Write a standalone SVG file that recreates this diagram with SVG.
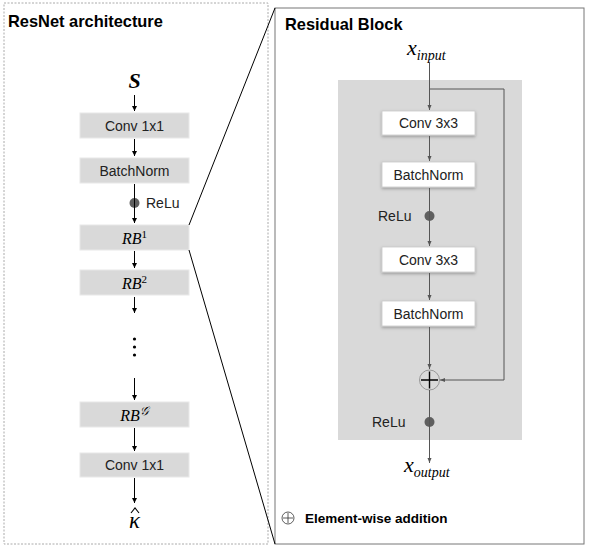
<svg xmlns="http://www.w3.org/2000/svg" width="592" height="552" viewBox="0 0 592 552">
<defs>
<style>
.title{font-family:"Liberation Sans",Arial,sans-serif;font-weight:bold;font-size:16.4px;fill:#000}
.legend{font-family:"Liberation Sans",Arial,sans-serif;font-weight:bold;font-size:13.5px;fill:#000}
.lbl{font-family:"Liberation Sans",Arial,sans-serif;font-size:14px;fill:#222}
.math{font-family:"Liberation Serif","Times New Roman",serif;font-style:italic;fill:#000}
.sup{font-style:normal}
.gbox{fill:#d9d9d9;stroke:#e8e8e8;stroke-width:1}
.wbox{fill:#fff;stroke:#c8c8c8;stroke-width:0.8}
.bl{stroke:#000;stroke-width:1;fill:none}
.gl{stroke:#555;stroke-width:1;fill:none}
.dot{fill:#5f5f5f}
</style>
<marker id="ab" markerWidth="6" markerHeight="6" refX="5" refY="3" orient="auto" markerUnits="userSpaceOnUse">
<path d="M0,0.5 L5,3 L0,5.5 Z" fill="#000"/>
</marker>
<marker id="ag" markerWidth="6" markerHeight="6" refX="5" refY="3" orient="auto" markerUnits="userSpaceOnUse">
<path d="M0,1 L5,3 L0,5 Z" fill="#555"/>
</marker>
<filter id="sh" x="-20%" y="-20%" width="140%" height="160%">
<feDropShadow dx="0" dy="1.5" stdDeviation="1.5" flood-color="#000" flood-opacity="0.3"/>
</filter>
</defs>
<rect width="592" height="552" fill="#fff"/>

<!-- panels -->
<g id="left-panel">
<rect x="4" y="3" width="264" height="541" fill="none" stroke="#aaa" stroke-width="1" stroke-dasharray="2,1.5"/>
<text class="title" x="8" y="27">ResNet architecture</text>
</g>
<g id="right-panel">
<rect x="275" y="8" width="309" height="536" fill="none" stroke="#777" stroke-width="1"/>
<text class="title" x="285" y="30">Residual Block</text>
<rect id="rb-bg" x="338" y="80" width="184" height="360" fill="#d9d9d9"/>
</g>

<!-- left nodes -->
<g id="s"><text class="math" x="134.5" y="88" text-anchor="middle" font-size="22" font-weight="bold">S</text></g>
<g id="conv1"><rect class="gbox" x="80" y="113" width="109" height="25"/><text class="lbl" x="134.5" y="130.5" text-anchor="middle">Conv 1x1</text></g>
<g id="bn1"><rect class="gbox" x="80" y="158" width="109" height="25"/><text class="lbl" x="134.5" y="175.5" text-anchor="middle">BatchNorm</text></g>
<g id="relu1"><circle class="dot" cx="134.5" cy="203" r="5"/><text class="lbl" x="146" y="208">ReLu</text></g>
<g id="rb1"><rect class="gbox" x="80" y="225" width="109" height="25"/><text class="math" x="134.5" y="244" text-anchor="middle" font-size="16">RB<tspan class="sup" font-size="11" dy="-6">1</tspan></text></g>
<g id="rb2"><rect class="gbox" x="80" y="270" width="109" height="25"/><text class="math" x="134.5" y="289" text-anchor="middle" font-size="16">RB<tspan class="sup" font-size="11" dy="-6">2</tspan></text></g>
<g id="vdots"><circle cx="134.5" cy="339" r="1.6" fill="#000"/><circle cx="134.5" cy="347" r="1.6" fill="#000"/><circle cx="134.5" cy="355" r="1.6" fill="#000"/></g>
<g id="rbg"><rect class="gbox" x="80" y="402" width="109" height="25"/><text class="math" x="134.5" y="421" text-anchor="middle" font-size="16">RB<tspan font-size="12" dy="-6" font-family="DejaVu Serif, serif">𝒢</tspan></text></g>
<g id="conv2"><rect class="gbox" x="80" y="453" width="109" height="24"/><text class="lbl" x="134.5" y="470" text-anchor="middle">Conv 1x1</text></g>
<g id="kappa"><text class="math" x="134.5" y="528" text-anchor="middle" font-size="23">κ</text><polyline points="131,513 135,508 139,513" fill="none" stroke="#000" stroke-width="1.1"/></g>

<!-- right nodes -->
<g id="xin"><text class="math" x="407" y="55" font-size="22">x<tspan font-size="14" dy="5">input</tspan></text></g>
<g id="c3a"><rect class="wbox" filter="url(#sh)" x="382" y="111" width="93" height="24"/><text class="lbl" x="428.5" y="128" text-anchor="middle">Conv 3x3</text></g>
<g id="bn2"><rect class="wbox" filter="url(#sh)" x="382" y="162" width="93" height="25"/><text class="lbl" x="428.5" y="179.5" text-anchor="middle">BatchNorm</text></g>
<g id="relu2"><circle class="dot" cx="429.5" cy="216" r="5"/><text class="lbl" x="378" y="221">ReLu</text></g>
<g id="c3b"><rect class="wbox" filter="url(#sh)" x="382" y="247" width="93" height="25"/><text class="lbl" x="428.5" y="264.5" text-anchor="middle">Conv 3x3</text></g>
<g id="bn3"><rect class="wbox" filter="url(#sh)" x="382" y="301" width="93" height="25"/><text class="lbl" x="428.5" y="318.5" text-anchor="middle">BatchNorm</text></g>
<g id="add"><circle cx="429.5" cy="380" r="10" fill="#d9d9d9" stroke="#888" stroke-width="0.8"/><path d="M421,380 H438 M429.5,371.5 V388.5" stroke="#000" stroke-width="1.4"/></g>
<g id="relu3"><circle class="dot" cx="429.5" cy="422" r="5"/><text class="lbl" x="372" y="427">ReLu</text></g>
<g id="xout"><text class="math" x="404" y="472" font-size="22">x<tspan font-size="14" dy="5">output</tspan></text></g>
<g id="legend"><circle cx="288" cy="518" r="6" fill="none" stroke="#333" stroke-width="0.8"/><path d="M283,518 H293 M288,513 V523" stroke="#333" stroke-width="0.8"/><text class="legend" x="305" y="523">Element-wise addition</text></g>

<!-- connectors -->
<g id="connectors">
<line class="bl" x1="189" y1="225" x2="275" y2="8"/>
<line class="bl" x1="189" y1="250" x2="275" y2="544"/>
<line class="bl" x1="134.5" y1="95" x2="134.5" y2="111" marker-end="url(#ab)"/>
<line class="bl" x1="134.5" y1="139" x2="134.5" y2="156" marker-end="url(#ab)"/>
<line class="bl" x1="134.5" y1="184" x2="134.5" y2="223" marker-end="url(#ab)"/>
<line class="bl" x1="134.5" y1="251" x2="134.5" y2="268" marker-end="url(#ab)"/>
<line class="bl" x1="134.5" y1="297" x2="134.5" y2="313" marker-end="url(#ab)"/>
<line class="bl" x1="134.5" y1="378" x2="134.5" y2="400" marker-end="url(#ab)"/>
<line class="bl" x1="134.5" y1="428" x2="134.5" y2="451" marker-end="url(#ab)"/>
<line class="bl" x1="134.5" y1="478" x2="134.5" y2="503" marker-end="url(#ab)"/>

<line class="gl" x1="429.5" y1="62" x2="429.5" y2="110" marker-end="url(#ag)"/>
<polyline class="gl" points="429.5,89 504,89 504,380 440,380" marker-end="url(#ag)"/>
<line class="gl" x1="429.5" y1="136" x2="429.5" y2="161" marker-end="url(#ag)"/>
<line class="gl" x1="429.5" y1="188" x2="429.5" y2="246" marker-end="url(#ag)"/>
<line class="gl" x1="429.5" y1="273" x2="429.5" y2="300" marker-end="url(#ag)"/>
<line class="gl" x1="429.5" y1="327" x2="429.5" y2="369" marker-end="url(#ag)"/>
<line class="gl" x1="429.5" y1="390" x2="429.5" y2="463" marker-end="url(#ag)"/>
</g>
</svg>
